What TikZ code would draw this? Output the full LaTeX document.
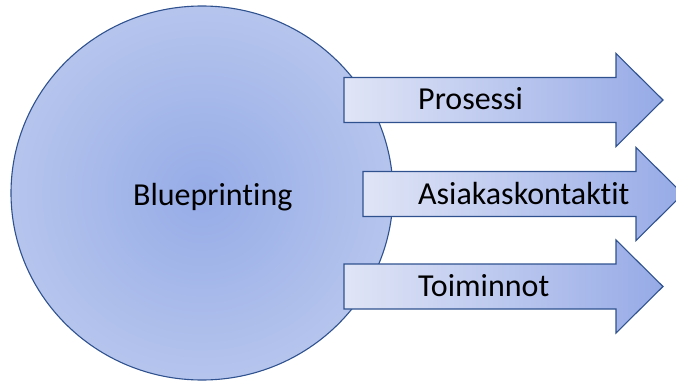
\documentclass[tikz,border=0pt]{standalone}
\usepackage{fontspec}
\setmainfont{Carlito}[Ligatures=NoCommon]
\usepackage{tikz}

\definecolor{rim}{RGB}{47,82,143}
\definecolor{bubblein}{RGB}{150,172,231}
\definecolor{bubbleout}{RGB}{208,217,242}
\definecolor{arrowleft}{RGB}{224,229,246}
\definecolor{arrowright}{RGB}{150,170,230}
\pgfdeclareradialshading{bubble}{\pgfpoint{0bp}{0bp}}{%
  color(0bp)=(bubblein); color(46bp)=(bubbleout); color(50bp)=(bubbleout)}

\begin{document}
\begin{tikzpicture}[x=1pt, y=-1pt,
    outline/.style={draw=rim, line width=1.1pt, line join=miter},
    label/.style={font=\fontsize{32}{36}\selectfont, inner sep=0pt, anchor=base west}]
      \path[use as bounding box, clip] (0, 0) rectangle (676, 382);
      % the big circle
      \draw [outline, shading=bubble] (202, 193) ellipse [x radius=191, y radius=187];
      \node[label] (bp) at (133, 205) {Blueprinting};
      % the three arrows: left x, mid y, head x, tip x, text
      \foreach \lx/\my/\hx/\tx/\txt/\nm in {
          344/100/616/663/Prosessi/pro,
          363/194/636/683/Asiakaskontaktit/asi,
          344/286.5/616/663/Toiminnot/toi} {
        \draw [outline, left color=arrowleft, right color=arrowright]
          (\lx, \my-22.5) -- (\hx, \my-22.5) -- (\hx, \my-46.5) -- (\tx, \my)
          -- (\hx, \my+46.5) -- (\hx, \my+22.5) -- (\lx, \my+22.5) -- cycle;
        \node[label] (\nm) at (418, \my+10) {\txt};
      }
    \end{tikzpicture}
\end{document}
